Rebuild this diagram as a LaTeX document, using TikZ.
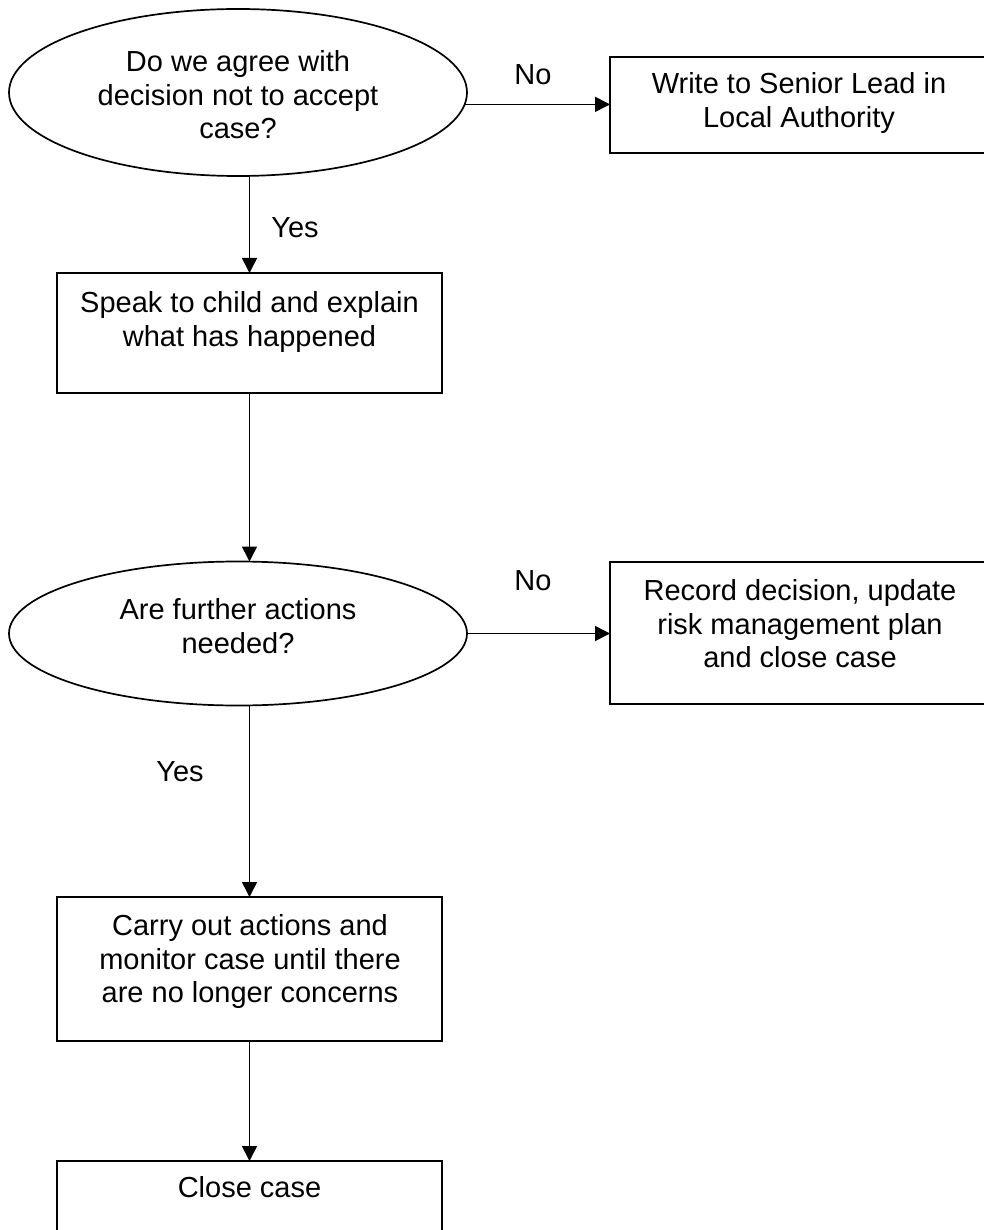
\documentclass[tikz,border=0pt]{standalone}
\usepackage{fontspec}
\setmainfont{Liberation Sans}
\usetikzlibrary{shapes.geometric,arrows.meta,calc}
\begin{document}
\begin{tikzpicture}[x=1pt,y=-1pt,
  every node/.style={inner sep=0pt, outer sep=0pt},
  box/.style={draw, line width=2pt, rectangle, minimum width=385pt, minimum height=#1},
  rbox/.style={draw, line width=2pt, rectangle, minimum width=390pt, minimum height=#1},
  decision/.style={draw, line width=1.7pt, ellipse, minimum width=458pt, minimum height=#1},
  txt/.style={align=center, anchor=north, font=\fontsize{29}{33.5}\selectfont},
  lbl/.style={anchor=base, font=\fontsize{29}{33.5}\selectfont},
  arr/.style={line width=1.6pt, -{Triangle[length=15pt,width=15pt]}}
]
\useasboundingbox (0,0) rectangle (984,1230);
\clip (0,0) rectangle (984,1230);

% shapes
\node[decision=167pt] (q1) at (238,92.5) {};
\node[rbox=96pt] (lead) at (805,105) {};
\node[box=120pt] (speak) at (249.5,333) {};
\node[decision=144pt] (q2) at (238,633.5) {};
\node[rbox=142pt] (record) at (805,633) {};
\node[box=144pt] (carry) at (249.5,969) {};
\node[box=100pt] (close) at (249.5,1211) {};

% texts
\node[txt] (q1t) at (238,48.5) {\strut Do we agree with\\decision not to accept\\case?};
\node[txt] (leadt) at (799,70.5) {\strut Write to Senior Lead in\\Local Authority};
\node[txt] (speakt) at (249.5,289.5) {\strut Speak to child and explain\\what has happened};
\node[txt] (q2t) at (238,596.5) {\strut Are further actions\\needed?};
\node[txt] (recordt) at (800,577.5) {\strut Record decision, update\\risk management plan\\and close case};
\node[txt] (carryt) at (250,912.5) {\strut Carry out actions and\\monitor case until there\\are no longer concerns};
\node[txt] (closet) at (249.5,1174.5) {\strut Close case};

% connectors
\coordinate (q1out) at (q1.-3.2);
\draw[arr] (q1out) -- (q1out -| lead.west);
% thinned stretch of the "No" connector under its label
\fill[white] ($(q1out)+(48,-6)$) rectangle ($(q1out)+(98,0.1)$);
\draw[arr] (q1.south -| speak.north) -- (speak.north);
\draw[arr] (speak.south) -- (speak.south |- q2.north);
\draw[arr] (q2.east) -- (q2.east -| record.west);
\draw[arr] (q2.south -| carry.north) -- (carry.north);
\draw[arr] (carry.south) -- (close.north);

% branch labels
\node[lbl] (no1) at (533,85) {No};
\node[lbl] (yes1) at (295,238) {Yes};
\node[lbl] (no2) at (533,590) {No};
\node[lbl] (yes2) at (180,781) {Yes};
\end{tikzpicture}
\end{document}
